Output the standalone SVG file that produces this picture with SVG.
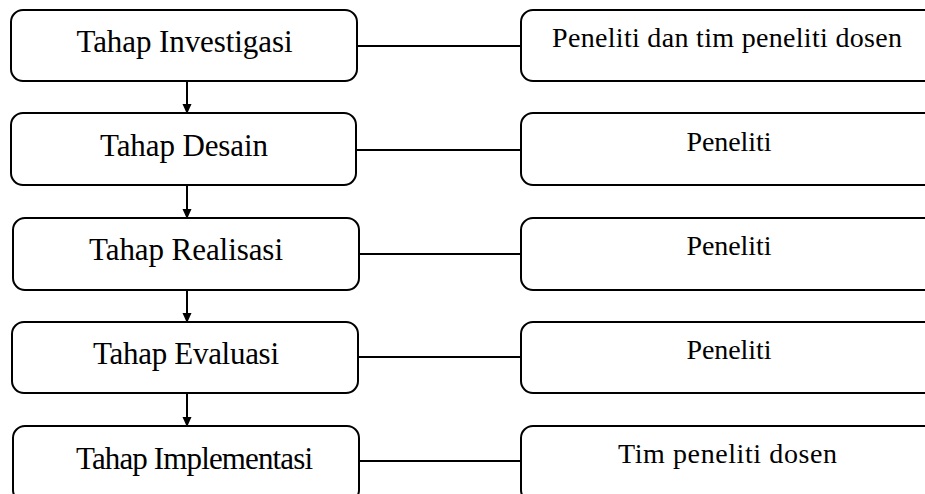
<svg xmlns="http://www.w3.org/2000/svg" width="925" height="494" viewBox="0 0 925 494">
<defs>
<style>
.box{fill:#fff;stroke:#000;stroke-width:2}
.lt{font-family:"Liberation Serif","Times New Roman",serif;font-size:31px;fill:#000;text-anchor:middle}
.rt{font-family:"Liberation Serif","Times New Roman",serif;font-size:28px;fill:#000;text-anchor:middle}
.ln{stroke:#000;stroke-width:2;fill:none}
</style>
<marker id="ah" markerWidth="10" markerHeight="10" refX="9" refY="5" orient="auto" markerUnits="userSpaceOnUse">
<path d="M0,0.5 L10,5 L0,9.5 Z" fill="#000"/>
</marker>
</defs>
<rect width="925" height="494" fill="#fff"/>
<g id="connectors">
<line class="ln" x1="187" y1="81" x2="187" y2="113" marker-end="url(#ah)"/>
<line class="ln" x1="187" y1="185" x2="187" y2="218" marker-end="url(#ah)"/>
<line class="ln" x1="187" y1="290" x2="187" y2="322" marker-end="url(#ah)"/>
<line class="ln" x1="187" y1="393" x2="187" y2="426" marker-end="url(#ah)"/>
<line class="ln" x1="357" y1="46" x2="521" y2="46"/>
<line class="ln" x1="356" y1="150" x2="521" y2="150"/>
<line class="ln" x1="359" y1="254" x2="521" y2="254"/>
<line class="ln" x1="358" y1="357" x2="521" y2="357"/>
<line class="ln" x1="359" y1="461" x2="521" y2="461"/>
</g>
<g id="investigasi">
<rect class="box" x="11" y="10" width="346" height="71" rx="12"/>
<text class="lt" x="184.5" y="52" textLength="216" lengthAdjust="spacing">Tahap Investigasi</text>
</g>
<g id="desain">
<rect class="box" x="11" y="113" width="345" height="72" rx="12"/>
<text class="lt" x="184" y="156" textLength="168" lengthAdjust="spacing">Tahap Desain</text>
</g>
<g id="realisasi">
<rect class="box" x="13" y="218" width="346" height="72" rx="12"/>
<text class="lt" x="186" y="260" textLength="194" lengthAdjust="spacing">Tahap Realisasi</text>
</g>
<g id="evaluasi">
<rect class="box" x="12" y="322" width="346" height="71" rx="12"/>
<text class="lt" x="186" y="364" textLength="186" lengthAdjust="spacing">Tahap Evaluasi</text>
</g>
<g id="implementasi">
<rect class="box" x="13" y="426" width="346" height="76" rx="12"/>
<text class="lt" x="194.5" y="469" textLength="237" lengthAdjust="spacing">Tahap Implementasi</text>
</g>
<g id="r1">
<rect class="box" x="521" y="10" width="420" height="71" rx="12"/>
<text class="rt" x="727" y="47" textLength="350" lengthAdjust="spacing">Peneliti dan tim peneliti dosen</text>
</g>
<g id="r2">
<rect class="box" x="521" y="113" width="420" height="72" rx="12"/>
<text class="rt" x="729" y="151" textLength="85" lengthAdjust="spacing">Peneliti</text>
</g>
<g id="r3">
<rect class="box" x="521" y="218" width="420" height="72" rx="12"/>
<text class="rt" x="729" y="255" textLength="85" lengthAdjust="spacing">Peneliti</text>
</g>
<g id="r4">
<rect class="box" x="521" y="322" width="420" height="71" rx="12"/>
<text class="rt" x="729" y="359" textLength="85" lengthAdjust="spacing">Peneliti</text>
</g>
<g id="r5">
<rect class="box" x="521" y="426" width="420" height="76" rx="12"/>
<text class="rt" x="727.5" y="463" textLength="219" lengthAdjust="spacing">Tim peneliti dosen</text>
</g>
</svg>
